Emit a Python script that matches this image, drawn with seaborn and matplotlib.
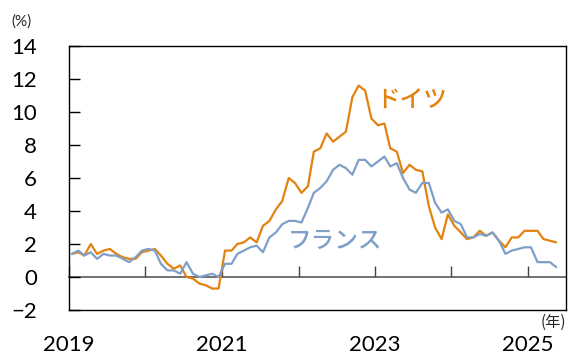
import pandas as pd
import matplotlib
matplotlib.use("Agg")
import matplotlib.pyplot as plt
import seaborn as sns

# monthly year-on-year inflation (%), Jan 2019 - May 2025
germany = [
    1.4, 1.5, 1.3, 2.0, 1.4, 1.6, 1.7, 1.4, 1.2, 1.1, 1.1, 1.5,
    1.6, 1.7, 1.3, 0.8, 0.5, 0.7, 0.0, -0.1, -0.4, -0.5, -0.7, -0.7,
    1.6, 1.6, 2.0, 2.1, 2.4, 2.1, 3.1, 3.4, 4.1, 4.6, 6.0, 5.7,
    5.1, 5.5, 7.6, 7.8, 8.7, 8.2, 8.5, 8.8, 10.9, 11.6, 11.3, 9.6,
    9.2, 9.3, 7.8, 7.6, 6.3, 6.8, 6.5, 6.4, 4.3, 3.0, 2.3, 3.8,
    3.1, 2.7, 2.3, 2.4, 2.8, 2.5, 2.7, 2.2, 1.8, 2.4, 2.4, 2.8,
    2.8, 2.8, 2.3, 2.2, 2.1,
]
france = [
    1.4, 1.6, 1.3, 1.5, 1.1, 1.4, 1.3, 1.3, 1.1, 0.9, 1.2, 1.6,
    1.7, 1.6, 0.8, 0.4, 0.4, 0.2, 0.9, 0.2, 0.0, 0.1, 0.2, 0.0,
    0.8, 0.8, 1.4, 1.6, 1.8, 1.9, 1.5, 2.4, 2.7, 3.2, 3.4, 3.4,
    3.3, 4.2, 5.1, 5.4, 5.8, 6.5, 6.8, 6.6, 6.2, 7.1, 7.1, 6.7,
    7.0, 7.3, 6.7, 6.9, 6.0, 5.3, 5.1, 5.7, 5.7, 4.5, 3.9, 4.1,
    3.4, 3.2, 2.4, 2.4, 2.6, 2.5, 2.7, 2.2, 1.4, 1.6, 1.7, 1.8,
    1.8, 0.9, 0.9, 0.9, 0.6,
]
countries = ["ドイツ", "フランス"]
colors = ["#E3820F", "#7F9FC8"]
year_ticks = ["2019", "2020", "2021", "2022", "2023", "2024", "2025"]
year_labels = ["2019", "", "2021", "", "2023", "", "2025"]
y_ticks = [-2, 0, 2, 4, 6, 8, 10, 12, 14]

months = pd.date_range("2019-01-01", periods=len(germany), freq="MS") + pd.Timedelta(days=14)
df = pd.concat([
    pd.DataFrame({"month": months, "value": germany, "country": countries[0]}),
    pd.DataFrame({"month": months, "value": france, "country": countries[1]}),
])

sns.set_style("white")
plt.rcParams["font.family"] = ["Lato", "Noto Sans CJK JP", "DejaVu Sans"]
jp = ["Noto Sans CJK JP", "DejaVu Sans"]

fig = plt.figure(figsize=(5.72, 3.56), dpi=100)
ax = fig.add_axes([69 / 572, 46 / 356, 497 / 572, 264 / 356])

sns.lineplot(data=df, x="month", y="value", hue="country", palette=colors,
             linewidth=1.6, legend=False, ax=ax)

ymin, ymax = -2, 14
ax.set_ylim(ymin, ymax)
ax.set_xlim(pd.Timestamp("2019-01-01"), pd.Timestamp("2025-07-01"))
ax.set_yticks(y_ticks)
ax.tick_params(axis="y", direction="in", length=8, width=1, pad=23,
               labelsize=16, colors="black", left=True)
tick_dates = [pd.Timestamp(y + "-01-01") for y in year_ticks]
ax.set_xticks(tick_dates)
ax.set_xticklabels(year_labels)
ax.tick_params(axis="x", length=0, pad=18, labelsize=16, colors="black")
ax.set_xlabel("")
ax.set_ylabel("")
for s in ax.spines.values():
    s.set_visible(True)
    s.set_color("black")
    s.set_linewidth(1.0)

# zero line with upward year ticks
zero = ax.secondary_xaxis((0 - ymin) / (ymax - ymin))
zero.set_xticks(tick_dates)
zero.tick_params(direction="in", length=8, width=1, labelbottom=False,
                 labeltop=False, colors="#404040")
for s in zero.spines.values():
    s.set_color("#595959")
    s.set_linewidth(1.2)

ax.text(412 / 572, 1 - 100 / 356, countries[0], transform=fig.transFigure,
        ha="center", va="center", fontsize=17, color=colors[0], family=jp,
        fontweight="medium")
ax.text(335 / 572, 1 - 241 / 356, countries[1], transform=fig.transFigure,
        ha="center", va="center", fontsize=17, color=colors[1], family=jp,
        fontweight="medium")
fig.text(22 / 572, 1 - 22 / 356, "(%)", ha="center", va="center", fontsize=11)
fig.text(553 / 572, 1 - 322 / 356, "(年)", ha="center", va="center",
         fontsize=11, family=jp)

fig.savefig("out.png", dpi=100)
